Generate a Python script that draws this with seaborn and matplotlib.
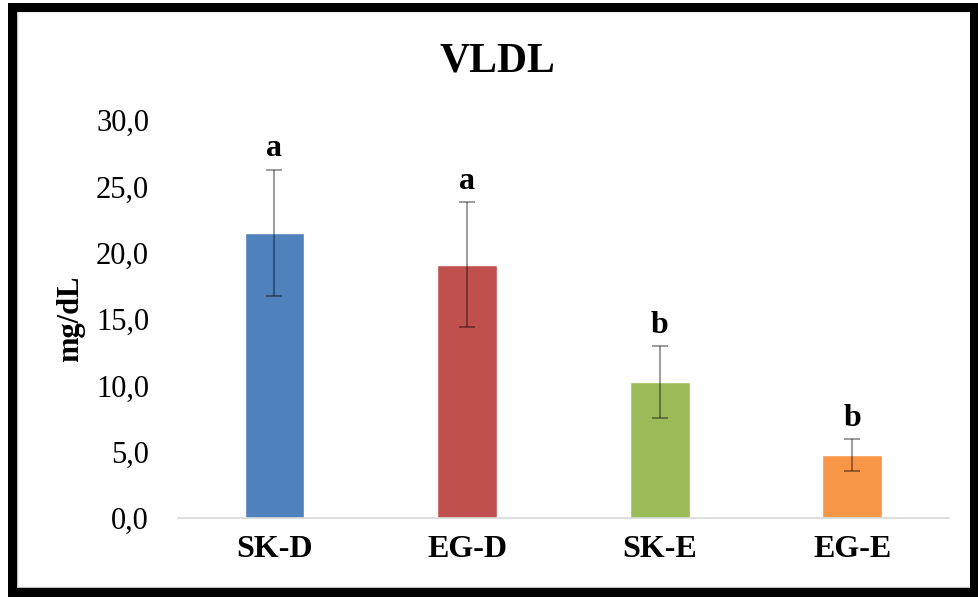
import matplotlib
matplotlib.use("Agg")
import matplotlib.pyplot as plt
import seaborn as sns
import pandas as pd
from matplotlib.patches import Rectangle

categories = ["SK-D", "EG-D", "SK-E", "EG-E"]
means = [21.5, 19.1, 10.25, 4.75]
sds = [4.75, 4.7, 2.7, 1.2]
letters = ["a", "a", "b", "b"]
colors = ["#4F81BD", "#C0504D", "#9BBB59", "#F79646"]
yticks = [0, 5, 10, 15, 20, 25, 30]

sns.set_theme(style="white")
plt.rcParams["font.family"] = ["Liberation Serif", "DejaVu Serif"]
plt.rcParams["text.color"] = "black"
plt.rcParams["axes.labelcolor"] = "black"
plt.rcParams["xtick.color"] = "black"
plt.rcParams["ytick.color"] = "black"

df = pd.DataFrame({"group": categories, "value": means})

fig = plt.figure(figsize=(9.79, 6.01), dpi=100)
ax = fig.add_axes([0.182, 0.138, 0.787, 0.662])

sns.barplot(data=df, x="group", y="value", hue="group", palette=colors,
            order=categories, hue_order=categories, legend=False,
            width=0.31, saturation=1, ax=ax, errorbar=None)

xs = list(range(len(categories)))
ax.errorbar(xs, means, yerr=sds, fmt="none", ecolor="black", alpha=0.45,
            elinewidth=1.2, capsize=6, capthick=1.2, zorder=5)

for x, m, s, l in zip(xs, means, sds, letters):
    ax.text(x, m + s + 0.5, l, ha="center", va="bottom", fontsize=23,
            fontweight="bold", color="black")

ax.set_ylim(0, 30)
ax.set_xlim(-0.5, 3.5)
ax.set_yticks(yticks)
ax.set_yticklabels([f"{v:.1f}".replace(".", ",") for v in yticks], fontsize=22)
ax.tick_params(axis="y", length=0, pad=21)
ax.tick_params(axis="x", length=0, pad=12)
for lab in ax.get_xticklabels():
    lab.set_fontsize(23)
    lab.set_fontweight("bold")
ax.set_xlabel("")
ax.set_ylabel("mg/dL", fontsize=22, fontweight="bold", labelpad=8)

for side in ["top", "right", "left"]:
    ax.spines[side].set_visible(False)
ax.spines["bottom"].set_color("#d9d9d9")
ax.spines["bottom"].set_linewidth(1.2)
ax.grid(False)

fig.text(0.508, 0.897, "VLDL", ha="center", va="center", fontsize=30,
         fontweight="bold", color="black")

# outer frame
fig.patches.append(Rectangle((17 / 979, 14 / 601), 956 / 979, 576 / 601,
                             transform=fig.transFigure, fill=False,
                             edgecolor="#c8c8c8", linewidth=1, zorder=9))
fig.patches.append(Rectangle((12 / 979, 9 / 601), 962 / 979, 585 / 601,
                             transform=fig.transFigure, fill=False,
                             edgecolor="black", linewidth=6.5, zorder=10))

fig.savefig("out.png", dpi=100)
